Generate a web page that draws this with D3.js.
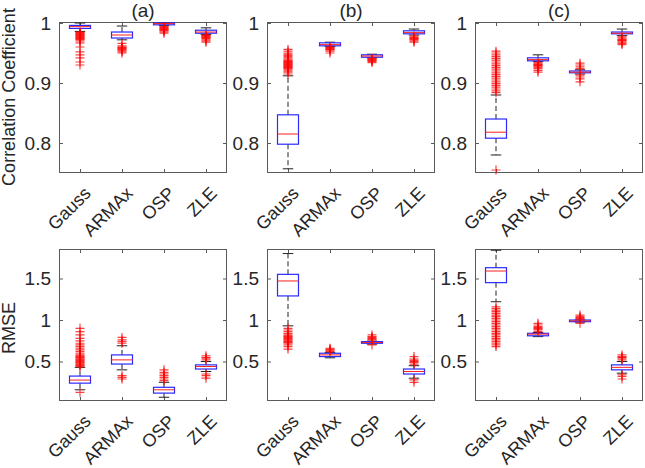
<!DOCTYPE html>
<html>
<head>
<meta charset="utf-8">
<script src="https://cdn.jsdelivr.net/npm/d3@7"></script>
<style>
  body { margin: 0; background: #fff; }
  text { font-family: "Liberation Sans", Arial, sans-serif; fill: #262626; }
</style>
</head>
<body>
<script>
// ---------------- DATA ----------------
const categories = ["Gauss", "ARMAx", "OSP", "ZLE"];
const panelTitles = ["(a)", "(b)", "(c)"];
const rowLabels = ["Correlation Coefficient", "RMSE"];
const corrTicks = [0.8, 0.9, 1];
const corrTickLabels = ["0.8", "0.9", "1"];
const rmseTicks = [0.5, 1, 1.5];
const rmseTickLabels = ["0.5", "1", "1.5"];

// box stats per category: [lowerWhisker, q1, median, q3, upperWhisker]
const corrStatsA = [
  [0.986, 0.991, 0.994, 0.996, 1.0],
  [0.972, 0.975, 0.980, 0.985, 0.995],
  [0.996, 0.997, 0.999, 1.0, 1.0],
  [0.981, 0.983, 0.985, 0.988, 0.992]
];
const corrStatsB = [
  [0.757, 0.798, 0.815, 0.847, 0.912],
  [0.961, 0.962, 0.964, 0.967, 0.968],
  [0.942, 0.943, 0.945, 0.947, 0.948],
  [0.980, 0.982, 0.984, 0.987, 0.990]
];
const corrStatsC = [
  [0.780, 0.808, 0.818, 0.840, 0.880],
  [0.936, 0.937, 0.939, 0.942, 0.947],
  [0.915, 0.917, 0.918, 0.920, 0.922],
  [0.979, 0.982, 0.983, 0.985, 0.990]
];
const rmseStatsA = [
  [0.16, 0.24, 0.277, 0.325, 0.43],
  [0.40, 0.47, 0.52, 0.58, 0.69],
  [0.07, 0.12, 0.16, 0.19, 0.25],
  [0.38, 0.41, 0.44, 0.46, 0.50]
];
const rmseStatsB = [
  [0.93, 1.29, 1.47, 1.55, 1.80],
  [0.545, 0.56, 0.58, 0.60, 0.61],
  [0.71, 0.72, 0.73, 0.74, 0.745],
  [0.30, 0.35, 0.38, 0.41, 0.45]
];
const rmseStatsC = [
  [1.22, 1.45, 1.59, 1.63, 1.84],
  [0.80, 0.81, 0.83, 0.84, 0.85],
  [0.975, 0.98, 0.99, 1.0, 1.0],
  [0.36, 0.40, 0.43, 0.46, 0.50]
];

// outliers per category
const corrOutA = [
  [0.985, 0.984, 0.983, 0.982, 0.981, 0.980, 0.979, 0.978, 0.977, 0.976, 0.975, 0.974, 0.973, 0.972, 0.970, 0.967, 0.960, 0.952, 0.947, 0.942, 0.935, 0.930],
  [0.966, 0.962, 0.960, 0.959, 0.958, 0.957, 0.956, 0.954, 0.952, 0.950],
  [0.994, 0.993, 0.992, 0.991, 0.990, 0.989, 0.988, 0.987, 0.985, 0.983],
  [0.980, 0.979, 0.978, 0.977, 0.976, 0.975, 0.974, 0.972, 0.970, 0.968]
];
const corrOutB = [
  [0.915, 0.918, 0.920, 0.922, 0.924, 0.925, 0.926, 0.927, 0.928, 0.929, 0.930, 0.931, 0.932, 0.933, 0.934, 0.935, 0.936, 0.937, 0.938, 0.940, 0.942, 0.944, 0.946, 0.948, 0.950, 0.953, 0.956],
  [0.960, 0.959, 0.958, 0.957, 0.956, 0.955, 0.953, 0.950],
  [0.941, 0.940, 0.939, 0.938, 0.937, 0.936, 0.934],
  [0.978, 0.976, 0.975, 0.974, 0.973, 0.972, 0.970, 0.968]
];
const corrOutC = [
  [0.755, 0.884, 0.887, 0.890, 0.893, 0.896, 0.899, 0.902, 0.905, 0.908, 0.911, 0.914, 0.917, 0.920, 0.923, 0.926, 0.929, 0.932, 0.935, 0.938, 0.941, 0.944, 0.947, 0.950, 0.953],
  [0.934, 0.932, 0.931, 0.930, 0.929, 0.928, 0.926, 0.924, 0.921, 0.918],
  [0.924, 0.927, 0.930, 0.933, 0.913, 0.910, 0.907, 0.902],
  [0.977, 0.975, 0.973, 0.972, 0.971, 0.970, 0.968, 0.966, 0.964]
];
const rmseOutA = [
  [0.13, 0.44, 0.45, 0.46, 0.47, 0.48, 0.49, 0.50, 0.51, 0.52, 0.53, 0.54, 0.55, 0.56, 0.57, 0.58, 0.60, 0.62, 0.64, 0.66, 0.68, 0.70, 0.72, 0.75, 0.78, 0.82, 0.86, 0.90],
  [0.72, 0.74, 0.76, 0.79, 0.33, 0.31, 0.29],
  [0.27, 0.29, 0.31, 0.33, 0.35, 0.37, 0.40],
  [0.52, 0.54, 0.55, 0.57, 0.35, 0.33, 0.30]
];
const rmseOutB = [
  [0.90, 0.88, 0.86, 0.84, 0.82, 0.81, 0.80, 0.79, 0.78, 0.77, 0.76, 0.75, 0.74, 0.73, 0.72, 0.70, 0.68, 0.65],
  [0.62, 0.63, 0.64, 0.65, 0.66],
  [0.76, 0.77, 0.78, 0.79, 0.80, 0.82, 0.70],
  [0.47, 0.49, 0.50, 0.51, 0.53, 0.56, 0.28, 0.25]
];
const rmseOutC = [
  [0.68, 0.70, 0.72, 0.74, 0.76, 0.78, 0.80, 0.82, 0.84, 0.86, 0.88, 0.90, 0.92, 0.94, 0.96, 0.98, 1.00, 1.02, 1.04, 1.06, 1.08, 1.10, 1.12, 1.14, 1.16],
  [0.86, 0.88, 0.89, 0.90, 0.91, 0.92, 0.94, 0.96],
  [1.01, 1.02, 1.03, 1.04, 1.06, 0.96],
  [0.52, 0.54, 0.55, 0.56, 0.58, 0.34, 0.32, 0.29]
];

// ---------------- LAYOUT ----------------
const W = 645, H = 468;
const panelLefts = [59, 267, 475];
const panelW = 168;
const rowsGeo = [
  { top: 22, bottom: 173, domain: [0.75, 1.0017], ticks: corrTicks, labels: corrTickLabels, labelY: 97 },
  { top: 249, bottom: 401, domain: [0.025, 1.855], ticks: rmseTicks, labels: rmseTickLabels, labelY: 328 }
];
const statsGrid = [[corrStatsA, corrStatsB, corrStatsC], [rmseStatsA, rmseStatsB, rmseStatsC]];
const outGrid = [[corrOutA, corrOutB, corrOutC], [rmseOutA, rmseOutB, rmseOutC]];

const svg = d3.select("body").append("svg").attr("width", W).attr("height", H);
const frameColor = "#5a5a5a";
const tickFont = 19;
const xLabelFont = 18;
const labelFont = 18;

rowsGeo.forEach((geo, r) => {
  panelLefts.forEach((left, c) => {
    const x = d3.scalePoint().domain(categories).range([left, left + panelW]).padding(0.5);
    const y = d3.scaleLinear().domain(geo.domain).range([geo.bottom, geo.top]);
    const g = svg.append("g");
    const bw = x.step() * 0.5;
    const cw = bw * 0.5;

    // y axis left (labels)
    const ya = g.append("g").attr("transform", `translate(${left},0)`)
      .call(d3.axisLeft(y).tickValues(geo.ticks).tickFormat((d, i) => geo.labels[i])
        .tickSizeInner(-4).tickSizeOuter(0).tickPadding(8));
    ya.select(".domain").remove();
    ya.selectAll("line").attr("stroke", frameColor);
    ya.selectAll("text").attr("font-size", tickFont).attr("fill", "#262626").attr("font-family", null);
    // y axis right (ticks only)
    const yr = g.append("g").attr("transform", `translate(${left + panelW},0)`)
      .call(d3.axisRight(y).tickValues(geo.ticks).tickFormat("").tickSizeInner(-4).tickSizeOuter(0));
    yr.select(".domain").remove();
    yr.selectAll("line").attr("stroke", frameColor);
    // x axis bottom with rotated labels
    const xa = g.append("g").attr("transform", `translate(0,${geo.bottom})`)
      .call(d3.axisBottom(x).tickSizeInner(-4).tickSizeOuter(0));
    xa.select(".domain").remove();
    xa.selectAll("line").attr("stroke", frameColor);
    xa.selectAll("text").attr("font-size", xLabelFont).attr("fill", "#262626").attr("font-family", null)
      .attr("x", 0).attr("y", 0).attr("dy", "0.35em")
      .attr("transform", "translate(7,17) rotate(-45)")
      .style("text-anchor", "end");
    // x axis top (ticks only)
    const xt = g.append("g").attr("transform", `translate(0,${geo.top})`)
      .call(d3.axisTop(x).tickFormat("").tickSizeInner(-4).tickSizeOuter(0));
    xt.select(".domain").remove();
    xt.selectAll("line").attr("stroke", frameColor);

    // frame
    g.append("rect").attr("x", left + 0.5).attr("y", geo.top + 0.5)
      .attr("width", panelW - 1).attr("height", geo.bottom - geo.top - 1)
      .attr("fill", "none").attr("stroke", frameColor).attr("stroke-width", 1);

    const stats = statsGrid[r][c];
    const outs = outGrid[r][c];
    categories.forEach((cat, k) => {
      const cx = x(cat);
      const [lw, q1, med, q3, uw] = stats[k];
      // whiskers
      g.append("line").attr("x1", cx).attr("x2", cx).attr("y1", y(q3)).attr("y2", y(uw))
        .attr("stroke", "#222").attr("stroke-dasharray", "5,3");
      g.append("line").attr("x1", cx).attr("x2", cx).attr("y1", y(q1)).attr("y2", y(lw))
        .attr("stroke", "#222").attr("stroke-dasharray", "5,3");
      g.append("line").attr("x1", cx - cw / 2).attr("x2", cx + cw / 2).attr("y1", y(uw)).attr("y2", y(uw))
        .attr("stroke", "#222");
      g.append("line").attr("x1", cx - cw / 2).attr("x2", cx + cw / 2).attr("y1", y(lw)).attr("y2", y(lw))
        .attr("stroke", "#222");
      // box
      g.append("rect").attr("x", cx - bw / 2).attr("y", y(q3))
        .attr("width", bw).attr("height", Math.max(1, y(q1) - y(q3)))
        .attr("fill", "none").attr("stroke", "#2a2aff").attr("stroke-width", 1.2);
      // median
      g.append("line").attr("x1", cx - bw / 2).attr("x2", cx + bw / 2).attr("y1", y(med)).attr("y2", y(med))
        .attr("stroke", "#ff2020").attr("stroke-width", 1);
      // outliers
      g.selectAll(null).data(outs[k]).enter().append("path")
        .attr("d", "M-4.5,0H4.5M0,-4.5V4.5")
        .attr("transform", d => `translate(${cx},${y(d)})`)
        .attr("stroke", "#ff0000").attr("stroke-width", 1.2).attr("stroke-opacity", 0.75)
        .attr("fill", "none");
    });

    if (r === 0) {
      svg.append("text").attr("x", left + panelW / 2).attr("y", 17)
        .attr("text-anchor", "middle").attr("font-size", tickFont).text(panelTitles[c]);
    }
  });
  svg.append("text").attr("transform", `translate(15,${geo.labelY}) rotate(-90)`)
    .attr("text-anchor", "middle").attr("font-size", labelFont).text(rowLabels[r]);
});
</script>
</body>
</html>
